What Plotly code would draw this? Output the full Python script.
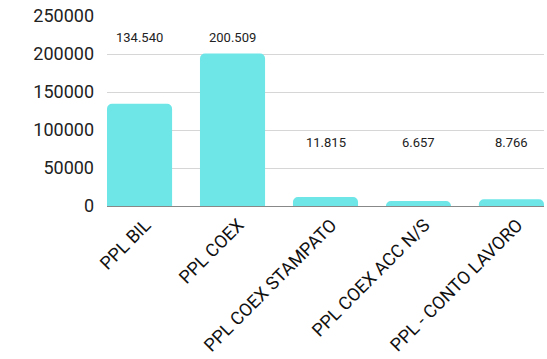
import plotly.graph_objects as go

categories = ["PPL BIL", "PPL COEX", "PPL COEX STAMPATO", "PPL COEX ACC N/S", "PPL - CONTO LAVORO"]
values = [134540, 200509, 11815, 6657, 8766]
y_ticks = [0, 50000, 100000, 150000, 200000, 250000]

bar_color = "#6ee6e8"
font_family = "Roboto, Arial, sans-serif"

fig = go.Figure()
fig.add_trace(go.Bar(
    x=categories,
    y=values,
    marker=dict(color=bar_color, cornerradius=5, line=dict(width=0)),
    hoverinfo="skip",
))

# value labels (Italian thousands separator), placed at two fixed heights
for cat, v in zip(categories, values):
    label_y = 222000 if v > 100000 else 83000
    fig.add_annotation(
        x=cat, y=label_y,
        text=f"{v:,}".replace(",", "."),
        showarrow=False,
        font=dict(family=font_family, size=13, color="#222222"),
    )

fig.update_layout(
    width=547, height=359,
    margin=dict(l=107, r=3, t=16, b=153),
    plot_bgcolor="white",
    paper_bgcolor="white",
    bargap=0.3,
    showlegend=False,
    font=dict(family=font_family, color="#222222"),
)
fig.update_xaxes(
    range=[-0.35, 4.35],
    tickangle=-45,
    tickfont=dict(size=18, color="#111111"),
    showgrid=False,
    showline=False,
    ticks="",
    ticklabelstandoff=4,
    ticklabelshift=6,
    automargin=False,
)
fig.update_yaxes(
    range=[0, 250000],
    tickvals=y_ticks,
    tickformat="d",
    tickfont=dict(size=18, color="#222222"),
    gridcolor="#d6d6d6",
    gridwidth=1,
    zeroline=True,
    zerolinecolor="#888888",
    zerolinewidth=1,
    ticks="",
    ticklabelstandoff=12,
    automargin=False,
)

# drop the default page margin so the figure sits at the window corner
fig.write_html(
    "out.html",
    config={"displayModeBar": False},
    post_script="document.body.style.margin='0';",
)
